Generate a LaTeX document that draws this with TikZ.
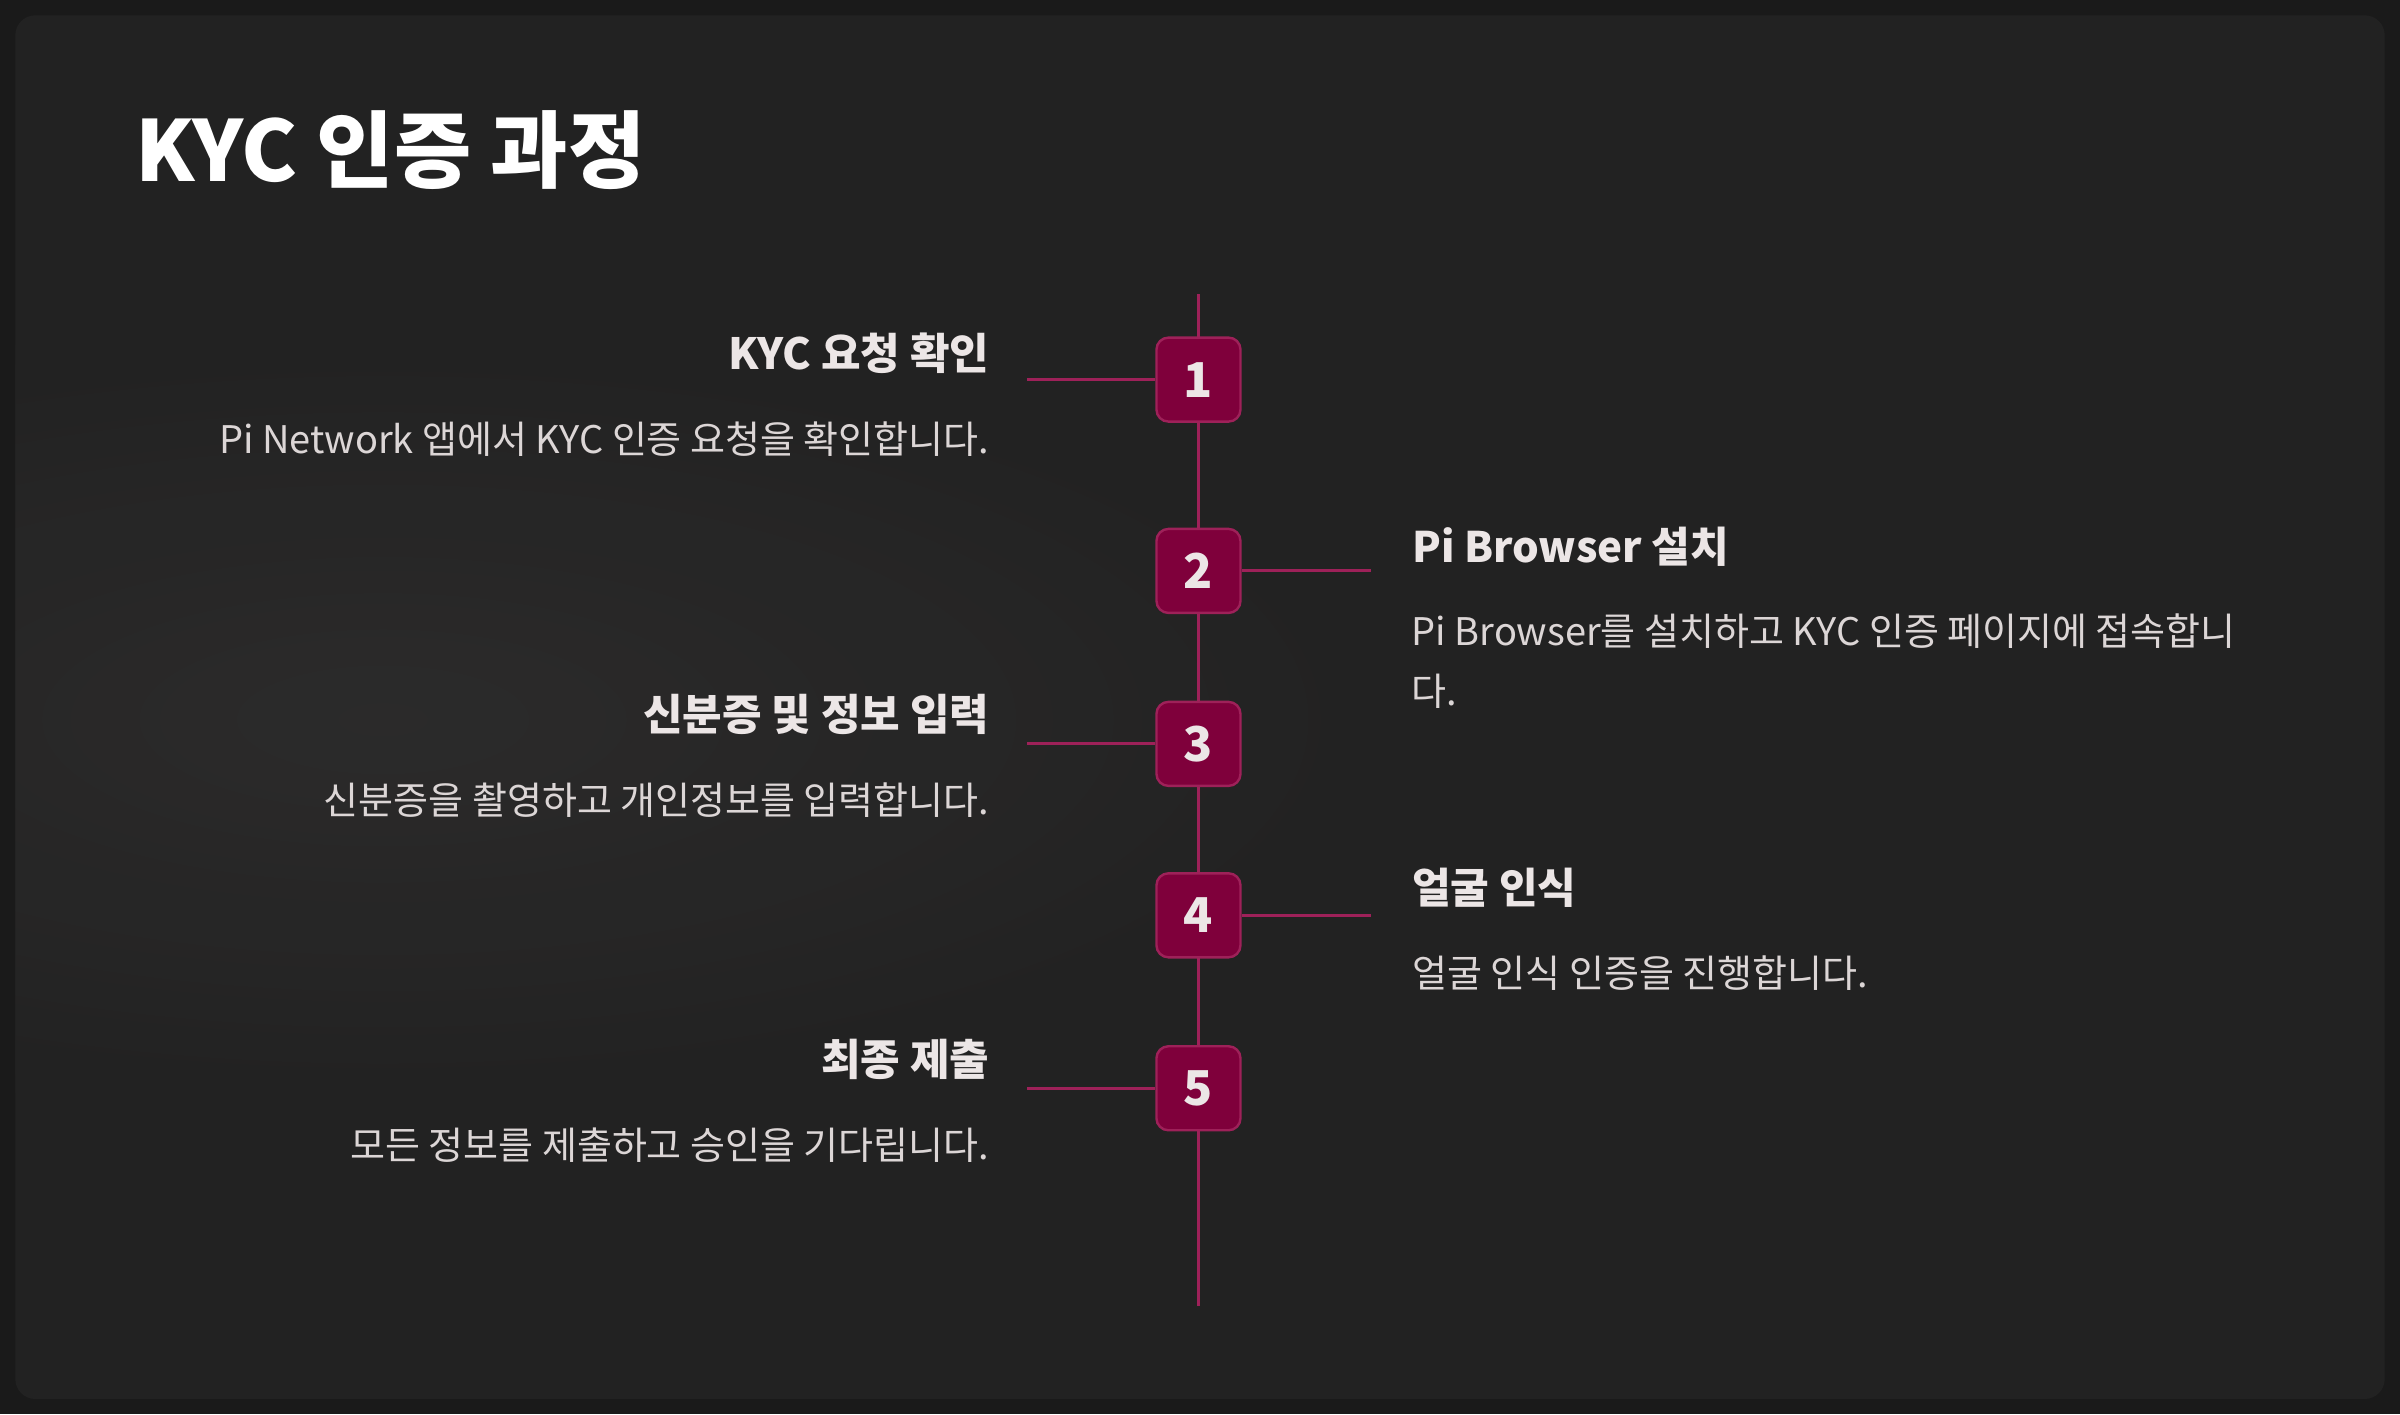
\documentclass[tikz,border=0pt]{standalone}
\usepackage{fontspec}
\setmainfont{Noto Sans CJK KR}
\definecolor{outer}{HTML}{1A1A1A}
\definecolor{panel}{HTML}{222222}
\definecolor{glow}{HTML}{2E2D2D}
\definecolor{boxf}{HTML}{7F003B}
\definecolor{boxd}{HTML}{9E2159}
\definecolor{tt}{HTML}{ECE6E6}
\definecolor{dt}{HTML}{DCD6D6}
\begin{document}
\begin{tikzpicture}[x=0.765pt,y=-0.765pt,
  numbox/.style={draw=boxd,line width=1.2pt,fill=boxf,rounded corners=6pt,minimum width=42pt,minimum height=42pt,inner sep=0pt,text=tt,font=\fontsize{24}{26}\selectfont\bfseries},
  conn/.style={draw=boxd,line width=1.5pt},
  ltitle/.style={anchor=east,text=tt,font=\fontsize{21.5}{24}\selectfont\bfseries},
  rtitle/.style={anchor=west,text=tt,font=\fontsize{21}{24}\selectfont\bfseries},
  ldesc/.style={anchor=east,text=dt,font=\fontsize{19}{22}\selectfont},
  rdesc/.style={anchor=north west,text=dt,font=\fontsize{19}{30}\selectfont,align=left,inner sep=0pt}]
\useasboundingbox (0,0) rectangle (1568,924);
\fill[outer] (0,0) rectangle (1568,924);
\fill[panel,rounded corners=10pt] (10,10) rectangle (1558,914);
\begin{scope}
\clip[rounded corners=10pt] (10,10) rectangle (1558,914);
\shade[inner color=glow,outer color=panel,opacity=0.8] (250,470) ellipse (700 and 260);
\end{scope}
\node[anchor=west,text=white,font=\fontsize{42}{48}\selectfont\bfseries] (title) at (84,98) {KYC 인증 과정};
\coordinate (top) at (783,192);
\coordinate (bot) at (783,853);
\draw[conn] (top) -- (bot);
\node[numbox] (n1) at (783,248) {1};
\node[numbox] (n2) at (783,373) {2};
\node[numbox] (n3) at (783,486) {3};
\node[numbox] (n4) at (783,598) {4};
\node[numbox] (n5) at (783,711) {5};
\coordinate (l1) at (671,248); \coordinate (r2) at (896,373);
\coordinate (l3) at (671,486); \coordinate (r4) at (896,598);
\coordinate (l5) at (671,711);
\draw[conn] (l1) -- (n1.west); \draw[conn] (n2.east) -- (r2);
\draw[conn] (l3) -- (n3.west); \draw[conn] (n4.east) -- (r4);
\draw[conn] (l5) -- (n5.west);
\node[ltitle] (t1) at (651,231) {KYC 요청 확인};
\node[ldesc] (d1) at (651,287) {Pi Network 앱에서 KYC 인증 요청을 확인합니다.};
\node[rtitle] (t2) at (918,357) {Pi Browser 설치};
\node[rdesc] (d2) at (922,401) {Pi Browser를 설치하고 KYC 인증 페이지에 접속합니\\다.};
\node[ltitle] (t3) at (651,467) {신분증 및 정보 입력};
\node[ldesc] (d3) at (651,523) {신분증을 촬영하고 개인정보를 입력합니다.};
\node[rtitle] (t4) at (918,580) {얼굴 인식};
\node[ldesc,anchor=west] (d4) at (918,636) {얼굴 인식 인증을 진행합니다.};
\node[ltitle] (t5) at (651,692) {최종 제출};
\node[ldesc] (d5) at (651,748) {모든 정보를 제출하고 승인을 기다립니다.};
\end{tikzpicture}
\end{document}
